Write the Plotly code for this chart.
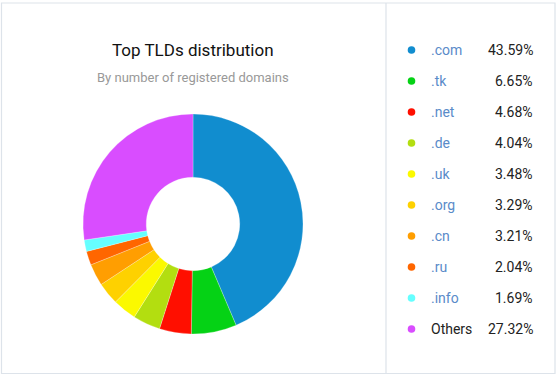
import plotly.graph_objects as go

labels = [".com", ".tk", ".net", ".de", ".uk", ".org", ".cn", ".ru", ".info", "Others"]
values = [43.59, 6.65, 4.68, 4.04, 3.48, 3.29, 3.21, 2.04, 1.69, 27.32]
colors = ["#118dcf", "#05d215", "#ff0f00", "#b3de10", "#fbf900", "#fed100",
          "#ff9e01", "#ff6600", "#66ffff", "#d94dff"]
title_text = "Top TLDs distribution"
subtitle_text = "By number of registered domains"

W, H = 556, 377
FONT = "Roboto, Open Sans, sans-serif"

cx, cy, r = 193, 224, 110  # pixel centre (from top) and radius

fig = go.Figure()
fig.add_trace(go.Pie(
    labels=labels, values=values, sort=False, direction="clockwise", rotation=0,
    hole=0.425, textinfo="none", hoverinfo="label+percent",
    marker=dict(colors=colors, line=dict(color="rgba(255,255,255,0.5)", width=0.5)),
    domain=dict(x=[(cx - r) / W, (cx + r) / W], y=[(H - cy - r) / H, (H - cy + r) / H]),
    showlegend=False,
))

shapes = [
    dict(type="rect", xref="paper", yref="paper", x0=1.5 / W, x1=555 / W,
         y0=(H - 373.5) / H, y1=(H - 3) / H, line=dict(color="#dde3ea", width=1.2),
         fillcolor="rgba(0,0,0,0)", layer="below"),
    dict(type="line", xref="paper", yref="paper", x0=386 / W, x1=386 / W,
         y0=(H - 373.5) / H, y1=(H - 3) / H, line=dict(color="#dde3ea", width=1.2)),
]

annotations = [
    dict(text=title_text, x=cx / W, y=(H - 50) / H, xref="paper", yref="paper",
         showarrow=False, xanchor="center", yanchor="middle",
         font=dict(family=FONT, size=17, color="#111111")),
    dict(text=subtitle_text, x=cx / W, y=(H - 77) / H, xref="paper", yref="paper",
         showarrow=False, xanchor="center", yanchor="middle",
         font=dict(family=FONT, size=13, color="#999999")),
]

row0, step = 50, 31.0
for i, (lab, val, col) in enumerate(zip(labels, values, colors)):
    y = (H - (row0 + i * step)) / H
    dr = 3.8
    yc = row0 + i * step
    shapes.append(dict(type="circle", xref="paper", yref="paper",
                       x0=(411.5 - dr) / W, x1=(411.5 + dr) / W,
                       y0=(H - yc - dr) / H, y1=(H - yc + dr) / H,
                       fillcolor=col, line=dict(width=0)))
    lab_color = "#222222" if lab == "Others" else "#5a8bc9"
    annotations.append(dict(text=lab, x=429 / W, y=y, xref="paper", yref="paper",
                            showarrow=False, xanchor="left", yanchor="middle",
                            font=dict(family=FONT, size=14, color=lab_color)))
    annotations.append(dict(text=f"{val:.2f}%", x=535 / W, y=y, xref="paper", yref="paper",
                            showarrow=False, xanchor="right", yanchor="middle",
                            font=dict(family=FONT, size=14, color="#222222")))

fig.update_layout(
    width=W, height=H, margin=dict(l=0, r=0, t=0, b=0),
    paper_bgcolor="white", plot_bgcolor="white",
    shapes=shapes, annotations=annotations,
)

fig.write_html("out.html", config={"displayModeBar": False},
               post_script="document.body.style.margin='0';document.body.style.overflow='hidden';")
